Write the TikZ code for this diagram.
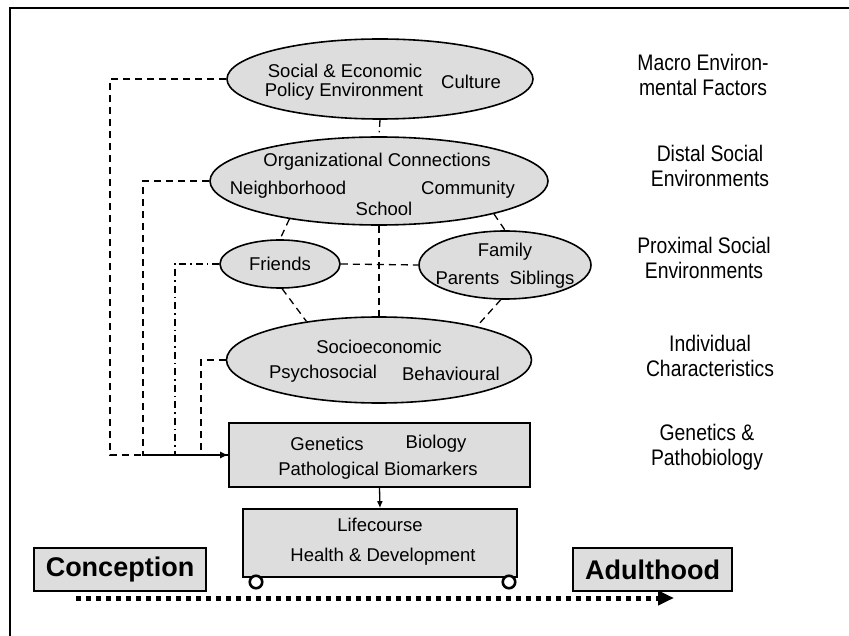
\documentclass[tikz,border=0pt]{standalone}
\usepackage{fontspec}
\setmainfont{Liberation Sans}
\newfontfamily\narrowsans[FakeStretch=0.86]{Liberation Sans}
\usetikzlibrary{shapes.geometric,arrows.meta}

\definecolor{boxgray}{RGB}{221,221,221}

\tikzset{
  oval/.style={ellipse, draw=black, line width=1.6pt, fill=boxgray, inner sep=0pt},
  block/.style={rectangle, draw=black, line width=1.6pt, fill=boxgray, inner sep=0pt},
  txt/.style={font=\fontsize{18.5}{22}\selectfont, inner sep=0pt, anchor=center},
  bigtxt/.style={font=\bfseries\fontsize{27}{30}\selectfont, inner sep=0pt, anchor=center},
  lvl/.style={font=\narrowsans\fontsize{22.5}{25}\selectfont, align=center, inner sep=0pt},
  link/.style={line width=1.3pt, dash pattern=on 7pt off 5pt},
  linkdd/.style={line width=1.3pt, dash pattern=on 7pt off 4pt on 1.5pt off 4pt},
  wheel/.style={circle, draw=black, line width=2.6pt, fill=white, minimum size=12.5pt, inner sep=0pt},
  timeline/.style={line width=5pt, dash pattern=on 5pt off 5pt,
    -{Triangle[length=16pt,width=14pt]}},
  frame/.style={line width=2.2pt},
}

\begin{document}
\begin{tikzpicture}[x=1pt, y=-1pt]
\useasboundingbox (0,0) rectangle (849,636);

% outer frame: left and top edges only
\coordinate (fbl) at (10,636);
\coordinate (ftl) at (10,8);
\coordinate (ftr) at (849,8);
\draw[frame] (fbl) -- (ftl) -- (ftr);

% level shapes
\node[oval, minimum width=306pt, minimum height=80pt] (macro) at (380,79) {};
\node[oval, minimum width=338pt, minimum height=88pt] (org) at (379,181) {};
\node[oval, minimum width=120pt, minimum height=48pt] (friends) at (280,264) {};
\node[oval, minimum width=172pt, minimum height=68pt] (family) at (505,265) {};
\node[oval, minimum width=305pt, minimum height=86pt] (indiv) at (379,360) {};
\node[block, minimum width=301pt, minimum height=64pt] (genes) at (379.5,455) {};
\node[block, minimum width=274pt, minimum height=68pt] (life) at (380,543) {};
\node[block, minimum width=172pt, minimum height=43pt] (concep) at (120,569.5) {};
\node[block, minimum width=159pt, minimum height=43pt] (adult) at (652.5,569.5) {};

% wheels under the lifecourse box
\node[wheel] (wl) at (256,582) {};
\node[wheel] (wr) at (509,582) {};

% texts inside the shapes
\node[txt] (tsocial) at (345,71) {Social \& Economic};
\node[txt] (tpolicy) at (344,92) {Policy Environment};
\node[txt] (tculture) at (471,82) {Culture};

\node[txt] (torg) at (377,162) {Organizational Connections};
\node[txt] (tneigh) at (288,190) {Neighborhood};
\node[txt] (tcomm) at (468,190) {Community};
\node[txt] (tschool) at (384,209) {School};

\node[txt] (tfriends) at (280,264) {Friends};
\node[txt] (tfamily) at (505,252) {Family};
\node[txt] (tparents) at (505,280) {Parents\ \ Siblings};

\node[txt] (tsocio) at (379,347) {Socioeconomic};
\node[txt] (tpsycho) at (323,374) {Psychosocial};
\node[txt] (tbehav) at (451,374) {Behavioural};

\node[txt] (tgenetics) at (327,444) {Genetics};
\node[txt] (tbiology) at (436,444) {Biology};
\node[txt] (tpatho) at (378,471) {Pathological Biomarkers};

\node[txt] (tlife) at (380,525) {Lifecourse};
\node[txt] (thealth) at (383,557) {Health \& Development};

\node[bigtxt] (tconcep) at (120,569.5) {Conception};
\node[bigtxt] (tadult) at (652.5,569.5) {Adulthood};

% level labels on the right
\node[lvl] (lmacro) at (703,75) {Macro Environ-\\mental Factors};
\node[lvl] (ldistal) at (710,166) {Distal Social\\Environments};
\node[lvl] (lprox) at (704,258) {Proximal Social\\Environments};
\node[lvl] (lindiv) at (710,356) {Individual\\Characteristics};
\node[lvl] (lgen) at (707,447) {Genetics \&\\Pathobiology};

% links between the social levels
\draw[linkdd] (macro.south) -- (org.north);
\draw[link] (org.203) -- (friends.north);
\draw[link] (org.-16) -- (family.north);
\draw[link] (friends.east) -- (family.west);
\draw[link] (org.south) -- (indiv.north);
\draw[link] (friends.-85) -- (indiv.152);
\draw[link] (family.-97) -- (indiv.19);

% feeds from each level down to genetics & pathobiology
\coordinate (xa) at (110,0);
\coordinate (xb) at (143,0);
\coordinate (xc) at (175,0);
\coordinate (xd) at (201,0);
\draw[link] (indiv.west) -- (indiv.west -| xd) -- (xd |- genes.west) -- (genes.west);
\draw[linkdd] (friends.west) -- (friends.west -| xc) -- (xc |- genes.west) -- (genes.west);
\draw[link] (org.west) -- (org.west -| xb) -- (xb |- genes.west) -- (genes.west);
\draw[link, -{Latex[length=8pt,width=7pt]}] (macro.west) -- (macro.west -| xa)
  -- (xa |- genes.west) -- (genes.west);

% genetics feeds lifecourse
\draw[line width=1.3pt, -{Latex[length=7pt,width=6pt]}] (genes.south) -- (life.north);

% time axis
\coordinate (tstart) at (76,598);
\coordinate (tend) at (674,598);
\draw[timeline] (tstart) -- (tend);
\end{tikzpicture}
\end{document}
